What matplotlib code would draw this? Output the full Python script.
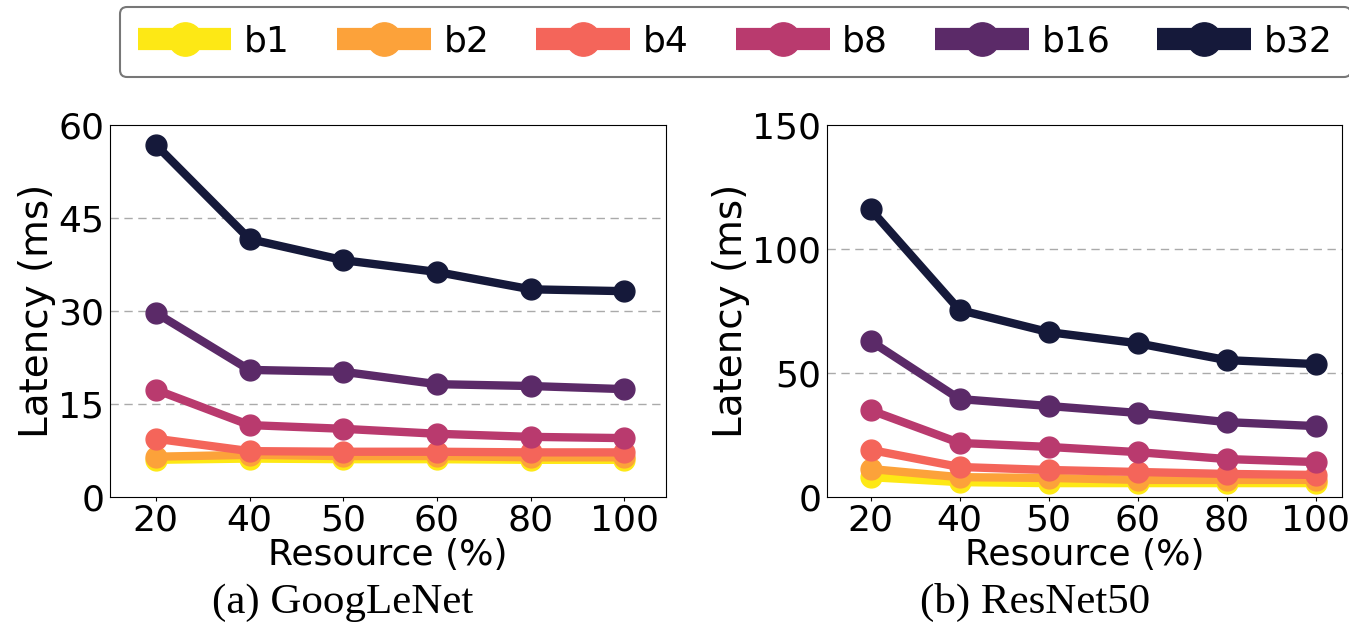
import matplotlib
matplotlib.use("Agg")
import matplotlib.pyplot as plt
from matplotlib.lines import Line2D

resource = ["20", "40", "50", "60", "80", "100"]
batches = ["b1", "b2", "b4", "b8", "b16", "b32"]
colors = ["#fde815", "#fca23a", "#f4655a", "#b93a6e", "#5b2a68", "#15193a"]

googlenet = {
    "b1": [6.0, 6.2, 6.1, 6.1, 6.0, 6.0],
    "b2": [6.5, 6.8, 6.6, 6.6, 6.4, 6.4],
    "b4": [9.4, 7.4, 7.3, 7.3, 7.2, 7.2],
    "b8": [17.3, 11.6, 11.0, 10.2, 9.7, 9.5],
    "b16": [29.7, 20.5, 20.2, 18.2, 17.9, 17.4],
    "b32": [56.8, 41.6, 38.2, 36.3, 33.5, 33.2],
}
resnet50 = {
    "b1": [8.0, 6.0, 5.6, 5.6, 5.6, 5.6],
    "b2": [11.3, 8.0, 7.7, 6.9, 6.9, 6.9],
    "b4": [19.0, 12.1, 10.9, 10.1, 9.3, 8.9],
    "b8": [35.0, 21.8, 20.2, 18.1, 15.3, 14.1],
    "b16": [62.9, 39.5, 36.7, 33.9, 30.2, 28.6],
    "b32": [116.0, 75.4, 66.5, 62.0, 55.2, 53.6],
}

fig = plt.figure(figsize=(13.49, 6.32), dpi=100)
ax1 = fig.add_axes([0.0815, 0.2136, 0.4125, 0.5886])
ax2 = fig.add_axes([0.613, 0.2136, 0.382, 0.5886])

panels = [
    (ax1, googlenet, [0, 15, 30, 45, 60], (-0.49, 5.45), "(a) GoogLeNet", 0.254),
    (ax2, resnet50, [0, 50, 100, 150], (-0.49, 5.3), "(b) ResNet50", 0.767),
]

xs = list(range(len(resource)))
for ax, data, yticks, xlim, title, tx in panels:
    for b, c in zip(batches, colors):
        ax.plot(xs, data[b], color=c, lw=6, marker="o", ms=15, zorder=3)
    ax.set_ylim(yticks[0], yticks[-1])
    ax.set_yticks(yticks)
    ax.set_xlim(*xlim)
    ax.set_xticks(xs)
    ax.set_xticklabels(resource)
    for y in yticks[1:-1]:
        ax.axhline(y, color="#aaaaaa", lw=1, ls=(0, (6, 4)), zorder=1)
    ax.tick_params(axis="both", labelsize=26, length=3, pad=2)
    ax.tick_params(axis="y", length=0, pad=4)
    ax.set_ylabel("Latency (ms)", fontsize=28, labelpad=2)
    ax.set_xlabel("Resource (%)", fontsize=26, labelpad=0)
    fig.text(tx, 0.046, title, ha="center", va="center",
             fontsize=31, family="Liberation Serif")

handles = [Line2D([0], [0], color=c, lw=16, marker="o", ms=24,
                  solid_capstyle="butt") for c in colors]
leg = fig.legend(handles, batches, loc="upper center", bbox_to_anchor=(0.545, 0.995),
                 ncol=6, fontsize=26, handlelength=2.6, handletextpad=0.35,
                 columnspacing=1.3, frameon=True, fancybox=True,
                 borderpad=0.5, borderaxespad=0.1)
leg.get_frame().set_edgecolor("#555555")
leg.get_frame().set_linewidth(1.5)

fig.savefig("out.png", dpi=100)
